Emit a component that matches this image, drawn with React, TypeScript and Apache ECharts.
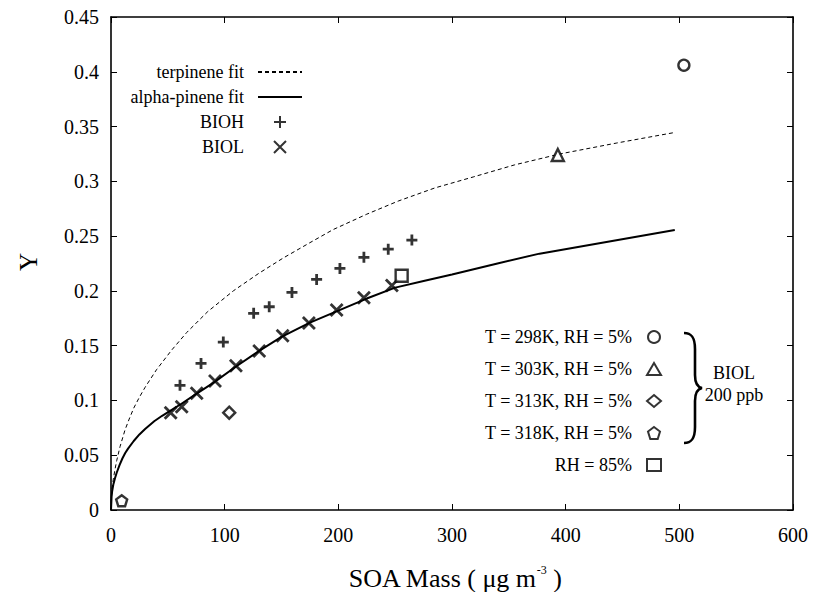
import React, { useEffect, useRef } from "react";
import * as echarts from "echarts";

const FONT = "'Liberation Serif', 'Times New Roman', serif";

// BIOH (+) and BIOL (x) experiments: [SOA mass, Y]
const biohX = [60.7, 79.2, 98.8, 125.5, 139.2, 159.2, 180.9, 201.4, 222.5, 243.9, 264.7];
const biohY = [0.1138, 0.1338, 0.1533, 0.1795, 0.1855, 0.1986, 0.2105, 0.2205, 0.2306, 0.2381, 0.2464];
const biolX = [52.5, 62.2, 75.4, 91.5, 109.9, 130.4, 151.0, 174.1, 198.5, 222.5, 247.1];
const biolY = [0.0888, 0.0943, 0.1065, 0.1177, 0.1316, 0.1451, 0.159, 0.1706, 0.1825, 0.1937, 0.205];

// single experiments
const t298 = [504, 0.406];
const t303 = [393.1, 0.324];
const t313 = [104.0, 0.0888];
const t318 = [9.4, 0.0085];
const rh85 = [255.7, 0.2138];

// fit curves
const terpX = [0, 0.5, 1, 2, 3.5, 5, 8, 12.3, 16, 20, 25, 30, 40, 53.4, 66.6, 85, 107.6, 130, 151.5, 175, 195.5, 225, 252.7, 285, 318.7, 355, 394.9, 445, 496];
const terpY = [0, 0.014, 0.02, 0.028, 0.037, 0.045, 0.058, 0.073, 0.083, 0.093, 0.103, 0.112, 0.128, 0.146, 0.162, 0.181, 0.2, 0.216, 0.23, 0.244, 0.256, 0.27, 0.282, 0.294, 0.304, 0.315, 0.325, 0.335, 0.3446];
const alphaX = [0, 0.5, 1, 2, 3.5, 5, 7.5, 10, 12.5, 15, 20, 25, 30, 38, 45, 52, 62, 75, 90, 110, 130, 150, 175, 200, 225, 250, 275, 300, 340, 377, 496];
const alphaY = [0, 0.012, 0.017, 0.023, 0.029, 0.034, 0.041, 0.047, 0.052, 0.056, 0.063, 0.069, 0.074, 0.081, 0.086, 0.0905, 0.097, 0.106, 0.116, 0.131, 0.145, 0.158, 0.171, 0.182, 0.193, 0.203, 0.209, 0.215, 0.225, 0.234, 0.2555];

const xTicks = { min: 0, max: 600, interval: 100 };
const yTicks = { min: 0, max: 0.45, interval: 0.05 };

const zip = (xs: number[], ys: number[]) => xs.map((x, i) => [x, ys[i]]);

const PLUS = "path://M5,0L5,10M0,5L10,5";
const CROSS = "path://M0,0L10,10M10,0L0,10";
const PENTA = "path://M5,0L10,3.8L8.1,10L1.9,10L0,3.8Z";

const BRACE_D =
  "M0,0 C8,0 11,5 11,16 L11,42 C11,50 13,54 18,55 C13,56 11,60 11,68 L11,94 C11,105 8,110 0,110";

let registered = false;

export default function App() {
  const ref = useRef<HTMLDivElement>(null);
  useEffect(() => {
    if (!registered) {
      echarts.graphic.registerShape("brace", echarts.graphic.extendPath(BRACE_D, {}) as any);
      registered = true;
    }
    const chart = echarts.init(ref.current!, null, { renderer: "svg" });
    const hollow = { color: "#fff", borderColor: "#000", borderWidth: 2.4 };
    const stroke = { color: "transparent", borderColor: "#000", borderWidth: 2.8 };
    const axisCommon = {
      type: "value" as const,
      axisLine: { show: true, onZero: false, lineStyle: { color: "#000", width: 1.6 } },
      axisTick: { show: true, inside: true, length: 6, lineStyle: { color: "#000", width: 1 } },
      splitLine: { show: false },
    };
    const noSym = { opacity: 0 };
    chart.setOption({
      animation: false,
      backgroundColor: "#fff",
      textStyle: { fontFamily: FONT },
      grid: { left: 111, right: 20, top: 17, bottom: 82 },
      xAxis: [
        {
          ...axisCommon,
          ...xTicks,
          position: "bottom",
          axisLabel: { color: "#000", fontSize: 20, fontFamily: FONT, margin: 15 },
        },
        { ...axisCommon, ...xTicks, position: "top", axisLabel: { show: false } },
      ],
      yAxis: [
        {
          ...axisCommon,
          ...yTicks,
          position: "left",
          axisLabel: { color: "#000", fontSize: 20, fontFamily: FONT, margin: 12 },
        },
        { ...axisCommon, ...yTicks, position: "right", axisLabel: { show: false } },
      ],
      legend: [
        {
          data: [
            { name: "terpinene fit", itemStyle: noSym },
            { name: "alpha-pinene fit", itemStyle: noSym },
            "BIOH",
            "BIOL",
          ],
          orient: "vertical",
          align: "right",
          right: 510,
          top: 63,
          padding: 0,
          itemWidth: 44,
          itemHeight: 12,
          itemGap: 7,
          selectedMode: false,
          textStyle: { fontFamily: FONT, fontSize: 18, color: "#000", padding: [0, 9, 0, 0] },
        },
        {
          data: ["T = 298K, RH = 5%", "T = 303K, RH = 5%", "T = 313K, RH = 5%", "T = 318K, RH = 5%", "RH = 85%"],
          orient: "vertical",
          align: "right",
          right: 151,
          top: 328,
          padding: 0,
          itemWidth: 14,
          itemHeight: 12,
          itemGap: 14,
          selectedMode: false,
          textStyle: { fontFamily: FONT, fontSize: 18, color: "#000", padding: [0, 10, 0, 0] },
        },
      ],
      graphic: [
        {
          type: "text",
          x: 455,
          y: 578,
          style: {
            text: "{a|SOA Mass ( μg m}{s|-3}{a| )}",
            align: "center",
            verticalAlign: "middle",
            rich: {
              a: { fontFamily: FONT, fontSize: 26, fill: "#000", lineHeight: 28 },
              s: { fontFamily: FONT, fontSize: 12, fill: "#000", verticalAlign: "top", lineHeight: 28, padding: [0, 0, 12, 0] },
            },
          },
        },
        {
          type: "text",
          x: 28,
          y: 262,
          rotation: Math.PI / 2,
          style: { text: "Y", fontFamily: FONT, fontSize: 25, fill: "#000", align: "center", verticalAlign: "middle" },
        },
        {
          type: "brace",
          x: 684,
          y: 333,
          style: { stroke: "#000", fill: "none", lineWidth: 2.6 },
        },
        {
          type: "text",
          x: 734,
          y: 373,
          style: { text: "BIOL", fontFamily: FONT, fontSize: 18, fill: "#000", align: "center", verticalAlign: "middle" },
        },
        {
          type: "text",
          x: 734,
          y: 395,
          style: { text: "200 ppb", fontFamily: FONT, fontSize: 18, fill: "#000", align: "center", verticalAlign: "middle" },
        },
      ],
      series: [
        {
          name: "terpinene fit",
          type: "line",
          data: zip(terpX, terpY),
          showSymbol: false,
          symbol: "none",
          color: "#000",
          itemStyle: noSym,
          lineStyle: { color: "#000", width: 1, type: [4, 3] },
          z: 2,
        },
        {
          name: "alpha-pinene fit",
          type: "line",
          data: zip(alphaX, alphaY),
          showSymbol: false,
          symbol: "none",
          color: "#000",
          itemStyle: noSym,
          lineStyle: { color: "#000", width: 2 },
          z: 2,
        },
        { name: "BIOH", type: "scatter", data: zip(biohX, biohY), symbol: PLUS, symbolSize: 11, color: "#000", itemStyle: stroke, z: 3 },
        { name: "BIOL", type: "scatter", data: zip(biolX, biolY), symbol: CROSS, symbolSize: 12, color: "#000", itemStyle: stroke, z: 3 },
        { name: "T = 298K, RH = 5%", type: "scatter", data: [t298], symbol: "circle", symbolSize: 11, color: "#000", itemStyle: hollow, z: 3 },
        { name: "T = 303K, RH = 5%", type: "scatter", data: [t303], symbol: "triangle", symbolSize: 12, color: "#000", itemStyle: hollow, z: 3 },
        { name: "T = 313K, RH = 5%", type: "scatter", data: [t313], symbol: "diamond", symbolSize: 12, color: "#000", itemStyle: hollow, z: 3 },
        { name: "T = 318K, RH = 5%", type: "scatter", data: [t318], symbol: PENTA, symbolSize: 11, color: "#000", itemStyle: hollow, z: 3 },
        { name: "RH = 85%", type: "scatter", data: [rh85], symbol: "rect", symbolSize: 12, color: "#000", itemStyle: hollow, z: 3 },
      ],
    });
    return () => chart.dispose();
  }, []);
  return <div ref={ref} style={{ position: "fixed", left: 0, top: 0, width: 813, height: 592 }} />;
}
